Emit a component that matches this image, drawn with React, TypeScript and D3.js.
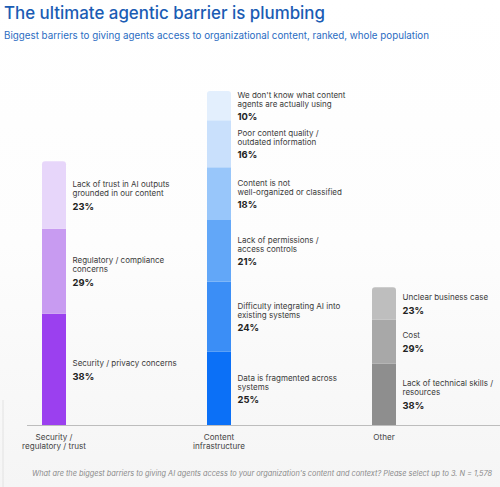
import React from "react";
import * as d3 from "d3";

// ---- Data ----
const categories = ["Security /\nregulatory / trust", "Content\ninfrastructure", "Other"];

const securityLabels = [
  "Security / privacy concerns",
  "Regulatory / compliance\nconcerns",
  "Lack of trust in AI outputs\ngrounded in our content",
];
const securityValues = [38, 29, 23];
const securityText = ["38%", "29%", "23%"];

const contentLabels = [
  "Data is fragmented across\nsystems",
  "Difficulty integrating AI into\nexisting systems",
  "Lack of permissions /\naccess controls",
  "Content is not\nwell-organized or classified",
  "Poor content quality /\noutdated information",
  "We don't know what content\nagents are actually using",
];
const contentValues = [25, 24, 21, 18, 16, 10];
const contentText = ["25%", "24%", "21%", "18%", "16%", "10%"];

const otherLabels = ["Lack of technical skills /\nresources", "Cost", "Unclear business case"];
// bar heights as drawn in the picture; labels printed as shown
const otherValues = [21, 15, 11];
const otherText = ["38%", "29%", "23%"];

const securityColors = ["#9b40ef", "#c89bf1", "#e7d6fa"];
const contentColors = ["#0b70f7", "#3b8ef6", "#62a7f8", "#98c6fa", "#c9e0fc", "#e3effd"];
const otherColors = ["#8e8e8e", "#a8a8a8", "#bebebe"];

const title = "The ultimate agentic barrier is plumbing";
const subtitle = "Biggest barriers to giving agents access to organizational content, ranked, whole population";
const footnote =
  "What are the biggest barriers to giving AI agents access to your organization's content and context? Please select up to 3. N = 1,578";

const groups = [
  { labels: securityLabels, values: securityValues, text: securityText, colors: securityColors },
  { labels: contentLabels, values: contentValues, text: contentText, colors: contentColors },
  { labels: otherLabels, values: otherValues, text: otherText, colors: otherColors },
];

const W = 500;
const H = 487;
const FONT = "Inter, 'Noto Sans', sans-serif";

export default function App() {
  const baseY = 425;
  const maxTotal = d3.max(groups, (g) => d3.sum(g.values)) as number;
  const y = d3.scaleLinear().domain([0, maxTotal]).range([baseY, 91]);
  const x = d3.scalePoint<string>().domain(categories).range([54, 384]);
  const barW = 24;
  const r = 3;

  const lineH = 9;

  return (
    <svg
      width={W}
      height={H}
      style={{ position: "absolute", left: 0, top: 0, display: "block" }}
      fontFamily={FONT}
    >
      <defs>
        <linearGradient id="bg" x1="0" y1="0" x2="0" y2="1">
          <stop offset="0" stopColor="#ffffff" />
          <stop offset="0.5" stopColor="#fdfdfd" />
          <stop offset="1" stopColor="#f5f5f5" />
        </linearGradient>
      </defs>
      <rect x={0} y={0} width={W} height={H} fill="url(#bg)" />
      <line x1={3} x2={3} y1={400} y2={H} stroke="#e2e2e2" strokeWidth={1} />

      <text x={4} y={19} fontSize={17} fontWeight={500} fill="#1a5cb4" textLength={321} lengthAdjust="spacingAndGlyphs">
        {title}
      </text>
      <text x={4} y={38.5} fontSize={9.9} fill="#2a6cc2" textLength={425} lengthAdjust="spacingAndGlyphs">
        {subtitle}
      </text>

      {groups.map((g, gi) => {
        const cx = x(categories[gi]) as number;
        const x0 = cx - barW / 2;
        const stack = d3.cumsum(g.values);
        return (
          <g key={gi}>
            {g.values.map((v, i) => {
              const top = y(stack[i]);
              const bottom = y(stack[i] - v);
              const isTop = i === g.values.length - 1;
              const path = isTop
                ? `M${x0},${bottom}V${top + r}Q${x0},${top} ${x0 + r},${top}H${x0 + barW - r}Q${x0 + barW},${top} ${x0 + barW},${top + r}V${bottom}Z`
                : `M${x0},${bottom}V${top}H${x0 + barW}V${bottom}Z`;
              const lines = g.labels[i].split("\n");
              const mid = (top + bottom) / 2;
              const blockH = (lines.length - 1) * lineH + 13.5 + 7;
              const firstBase = mid - blockH / 2 + 7;
              return (
                <g key={i}>
                  <path d={path} fill={g.colors[i]} />
                  {lines.map((ln, li) => (
                    <text
                      key={li}
                      x={x0 + barW + 6.5}
                      y={firstBase + li * lineH}
                      fontSize={8}
                      fill="#3a3a3a"
                    >
                      {ln}
                    </text>
                  ))}
                  <text
                    x={x0 + barW + 6.5}
                    y={firstBase + (lines.length - 1) * lineH + 13.5}
                    fontSize={9.4}
                    fontWeight={700}
                    fill="#222"
                  >
                    {g.text[i]}
                  </text>
                </g>
              );
            })}
            {categories[gi].split("\n").map((ln, li) => (
              <text
                key={li}
                x={cx}
                y={440 + li * 9}
                fontSize={8.1}
                fill="#444"
                textAnchor="middle"
              >
                {ln}
              </text>
            ))}
          </g>
        );
      })}

      <line x1={27} x2={W} y1={baseY + 0.5} y2={baseY + 0.5} stroke="#bdbdbd" strokeWidth={1} />

      <text x={32} y={476} fontSize={7.4} fontStyle="italic" fill="#8a8a8a" textLength={460} lengthAdjust="spacingAndGlyphs">
        {footnote}
      </text>
    </svg>
  );
}
